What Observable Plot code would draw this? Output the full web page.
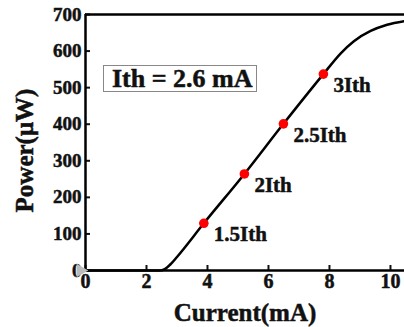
<!DOCTYPE html>
<html>
<head>
<meta charset="utf-8">
<script src="https://cdn.jsdelivr.net/npm/d3@7"></script>
<script src="https://cdn.jsdelivr.net/npm/@observablehq/plot@0.6"></script>
<style>
  html, body { margin: 0; padding: 0; background: #fff; }
  #wrap { position: relative; width: 404px; height: 327px; overflow: hidden; }
  #wrap svg text { font-weight: bold !important; font-family: "Liberation Serif", "Times New Roman", serif !important; stroke: #111; stroke-width: 0.5px; }
  #box {
    position: absolute; left: 103px; top: 65px; width: 154px; height: 27px;
    border: 1px solid #888; box-sizing: border-box;
    font-family: "Liberation Serif", "Times New Roman", serif; font-weight: bold;
    font-size: 26px; line-height: 26px; padding-left: 8px; white-space: nowrap; color: #111;
    -webkit-text-stroke: 0.5px #111;
  }
</style>
</head>
<body>
<div id="wrap"><div id="box">Ith = 2.6 mA</div></div>
<script>
// Light–current curve (mA, µW)
const currentMA = [0, 1, 2, 2.42, 2.6, 2.8, 3.0, 3.88, 5.21, 6.49, 7.8, 8.37, 8.8, 9.35, 9.89, 10.46];
const powerUW   = [0, 0, 0, 0,    4,   18,  37,  129,  264,  401,  537, 594,  627, 655,  672,  682];

// Marked operating points
const pointLabels = ["1.5Ith", "2Ith", "2.5Ith", "3Ith"];
const pointCurrent = [3.88, 5.21, 6.49, 7.8];
const pointPower = [129, 264, 401, 537];

const xTicks = [0, 2, 4, 6, 8, 10];
const yTicks = [0, 100, 200, 300, 400, 500, 600, 700];
const xDomain = [0, 10.46];
const yDomain = [0, 700];

const curve = currentMA.map((x, i) => ({x, y: powerUW[i]}));
const pts = pointLabels.map((label, i) => ({label, x: pointCurrent[i], y: pointPower[i]}));

const font = '"Liberation Serif", "Times New Roman", serif';

const chart = Plot.plot({
  width: 404,
  height: 327,
  marginLeft: 85,
  marginRight: 0,
  marginTop: 14,
  marginBottom: 57,
  style: {fontFamily: font, fontWeight: "bold", color: "#111", background: "#fff", overflow: "visible"},
  x: {domain: xDomain, ticks: xTicks},
  y: {domain: yDomain, ticks: yTicks},
  marks: [
    Plot.axisX({ticks: xTicks, tickSize: -5, tickPadding: 8, fontSize: 20, fontWeight: "bold", label: null, strokeWidth: 2}),
    Plot.axisY({ticks: yTicks, tickSize: -5, tickPadding: 9, fontSize: 19, fontWeight: "bold", label: null, strokeWidth: 2}),
    Plot.ruleY([yDomain[1]], {stroke: "#000", strokeWidth: 2.5}),
    Plot.ruleY([yDomain[0]], {stroke: "#000", strokeWidth: 2.5}),
    Plot.ruleX([xDomain[0]], {stroke: "#000", strokeWidth: 2.5}),
    Plot.line(curve, {x: "x", y: "y", curve: "monotone-x", stroke: "#000", strokeWidth: 2.5}),
    Plot.dot(pts, {x: "x", y: "y", r: 4.8, fill: "#f00", stroke: "none"}),
    Plot.text(pts, {x: "x", y: "y", text: "label", textAnchor: "start", dx: 10, dy: 11, fontSize: 21, fontWeight: "bold", fill: "#111"}),
    Plot.dot([{x: 0, y: 0}], {x: "x", y: "y", symbol: "triangle", r: 5, rotate: 90, fill: "#bbb", stroke: "none", dx: -5}),
    Plot.text(["Power(\u03bcW)"], {frameAnchor: "left", textAnchor: "middle", lineAnchor: "middle", rotate: -90, dx: -61, dy: 8, fontSize: 25, fontWeight: "bold", fill: "#111"}),
    Plot.text(["Current(mA)"], {frameAnchor: "bottom", textAnchor: "middle", lineAnchor: "middle", dy: 42, fontSize: 25, fontWeight: "bold", fill: "#111"})
  ]
});
document.getElementById("wrap").prepend(chart);
</script>
</body>
</html>
